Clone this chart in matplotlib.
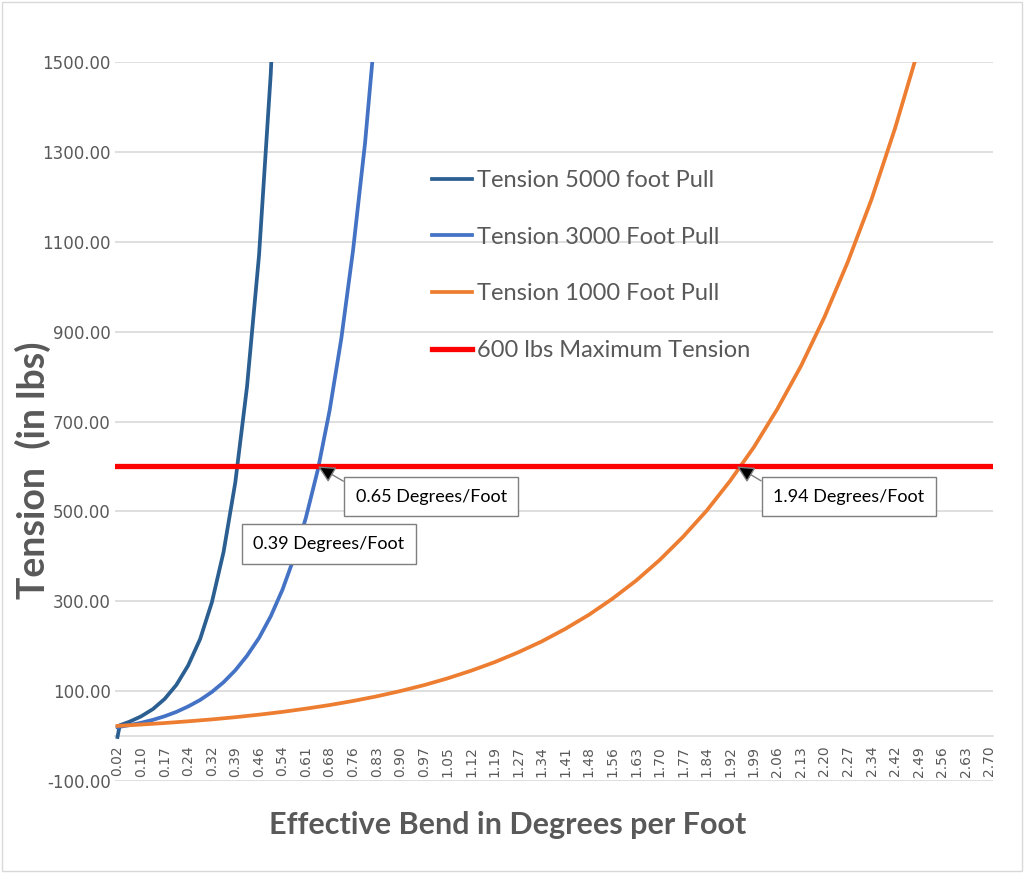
import matplotlib
matplotlib.use("Agg")
import numpy as np
import matplotlib.pyplot as plt
from matplotlib.patches import Rectangle

# ---------------- data ----------------
tick_labels = ["0.02", "0.10", "0.17", "0.24", "0.32", "0.39", "0.46", "0.54",
               "0.61", "0.68", "0.76", "0.83", "0.90", "0.97", "1.05", "1.12",
               "1.19", "1.27", "1.34", "1.41", "1.48", "1.56", "1.63", "1.70",
               "1.77", "1.84", "1.92", "1.99", "2.06", "2.13", "2.20", "2.27",
               "2.34", "2.42", "2.49", "2.56", "2.63", "2.70"]

bend_5000 = [0.020, 0.027, 0.056, 0.092, 0.129, 0.165, 0.201, 0.237, 0.274,
             0.310, 0.346, 0.382, 0.418, 0.455, 0.491, 0.527]
tension_5000 = [-2, 24, 31.7, 43.6, 60.1, 82.7, 113.9, 156.9, 216.0,
                297.5, 409.7, 564.1, 776.9, 1069.8, 1473.2, 2028.8]

bend_3000 = [0.020, 0.056, 0.092, 0.129, 0.165, 0.201, 0.237, 0.274, 0.310,
             0.346, 0.382, 0.418, 0.455, 0.491, 0.527, 0.563, 0.599, 0.636,
             0.672, 0.708, 0.744, 0.781, 0.817]
tension_3000 = [19.8, 24.2, 29.5, 36.1, 44.1, 53.8, 65.8, 80.3, 98.1,
                119.8, 146.3, 178.7, 218.3, 266.6, 325.6, 397.7, 485.8, 593.3,
                724.7, 885.1, 1081.1, 1320.5, 1612.9]

bend_1000 = [0.020, 0.092, 0.165, 0.237, 0.310, 0.382, 0.455, 0.527, 0.599,
             0.672, 0.744, 0.817, 0.889, 0.962, 1.034, 1.106, 1.179, 1.251,
             1.324, 1.396, 1.469, 1.541, 1.614, 1.686, 1.758, 1.831, 1.903,
             1.976, 2.048, 2.121, 2.193, 2.265, 2.338, 2.410, 2.483]
tension_1000 = [22.6, 25.6, 29.0, 32.8, 37.1, 42.0, 47.6, 53.8, 61.0,
                69.0, 78.1, 88.4, 100.1, 113.3, 128.3, 145.2, 164.4, 186.1,
                210.6, 238.4, 269.9, 305.5, 345.9, 391.5, 443.2, 501.7, 567.9,
                642.9, 727.7, 823.8, 932.5, 1055.6, 1195.0, 1352.7, 1531.3]

max_tension = 600

series_labels = ["Tension 5000 foot Pull", "Tension 3000 Foot Pull",
                 "Tension 1000 Foot Pull", "600 lbs Maximum Tension"]

callout_text = ["0.65 Degrees/Foot", "0.39 Degrees/Foot", "1.94 Degrees/Foot"]
callout_point = [(0.636, 600), None, (1.924, 600)]
callout_box = [(0.984, 533), (0.670, 427), (2.268, 533)]

# ---------------- figure ----------------
GRAY = "#595959"
GRID = "#D9D9D9"

fig = plt.figure(figsize=(10.24, 8.73), dpi=100)
ax = fig.add_axes([115 / 1024, 92 / 873, 878 / 1024, 719 / 873])

for s in ["top", "right", "left"]:
    ax.spines[s].set_visible(False)
ax.spines["bottom"].set_position(("data", 0))
ax.spines["bottom"].set_color(GRID)
ax.spines["bottom"].set_linewidth(1.2)

ax.plot(bend_5000, tension_5000, color="#2B5F91", lw=2.7,
        label=series_labels[0], zorder=3)
ax.plot(bend_3000, tension_3000, color="#4472C4", lw=2.7,
        label=series_labels[1], zorder=4)
ax.plot(bend_1000, tension_1000, color="#ED7D31", lw=2.7,
        label=series_labels[2], zorder=5)
ax.axhline(max_tension, color="#FF0000", lw=3.8, label=series_labels[3],
           zorder=6)

ax.set_xlim(0.0123, 2.711)
ax.set_ylim(-100, 1500)

tick_pos = np.linspace(float(tick_labels[0]), float(tick_labels[-1]),
                       len(tick_labels))
ax.set_xticks(tick_pos)
ax.set_xticklabels(tick_labels)
yt = np.arange(-100, 1501, 200)
ax.set_yticks(yt)
ax.set_yticklabels([f"{v:.2f}" for v in yt])
ax.tick_params(axis="x", length=0, pad=7, labelrotation=90,
               labelcolor=GRAY, labelsize=10)
ax.tick_params(axis="y", length=0, pad=3, labelcolor=GRAY, labelsize=12)
for lab in ax.get_xticklabels() + ax.get_yticklabels():
    lab.set_family("DejaVu Sans")

ax.grid(axis="y", color=GRID, lw=1.2)
ax.set_axisbelow(True)

fig.text(33 / 1024, 1 - 470 / 873, "Tension  (in lbs)", rotation=90,
         ha="center", va="center", fontsize=27, fontweight="bold",
         color=GRAY, family="Lato")
fig.text(508 / 1024, 1 - 825 / 873, "Effective Bend in Degrees per Foot",
         ha="center", va="center", fontsize=22, fontweight="bold",
         color=GRAY, family="Lato")

leg = ax.legend(loc="upper left", bbox_to_anchor=(0.361, 0.850),
                frameon=False, borderaxespad=0, borderpad=0,
                handlelength=1.7, handletextpad=0.2, labelspacing=1.51,
                prop={"family": "Lato", "size": 17})
for t in leg.get_texts():
    t.set_color(GRAY)

for txt, pt, box in zip(callout_text, callout_point, callout_box):
    bbox = dict(boxstyle="square,pad=0.65", fc="white", ec="#7F7F7F", lw=1)
    if pt is None:
        ax.text(box[0], box[1], txt, ha="center", va="center", fontsize=13,
                family="Lato", color="black", bbox=bbox, zorder=8)
    else:
        ax.annotate(txt, xy=pt, xytext=box, ha="center", va="center",
                    fontsize=13, family="Lato", color="black", bbox=bbox,
                    zorder=8,
                    arrowprops=dict(arrowstyle="-|>,head_length=0.8,head_width=0.4",
                                    ec="#7F7F7F", fc="black", lw=1,
                                    shrinkA=0, shrinkB=0,
                                    relpos=(0.04, 0.8)))

fig.patches.append(Rectangle((0.002, 0.002), 0.996, 0.996,
                             transform=fig.transFigure, fill=False,
                             ec=GRID, lw=1))

fig.savefig("out.png", dpi=100)
